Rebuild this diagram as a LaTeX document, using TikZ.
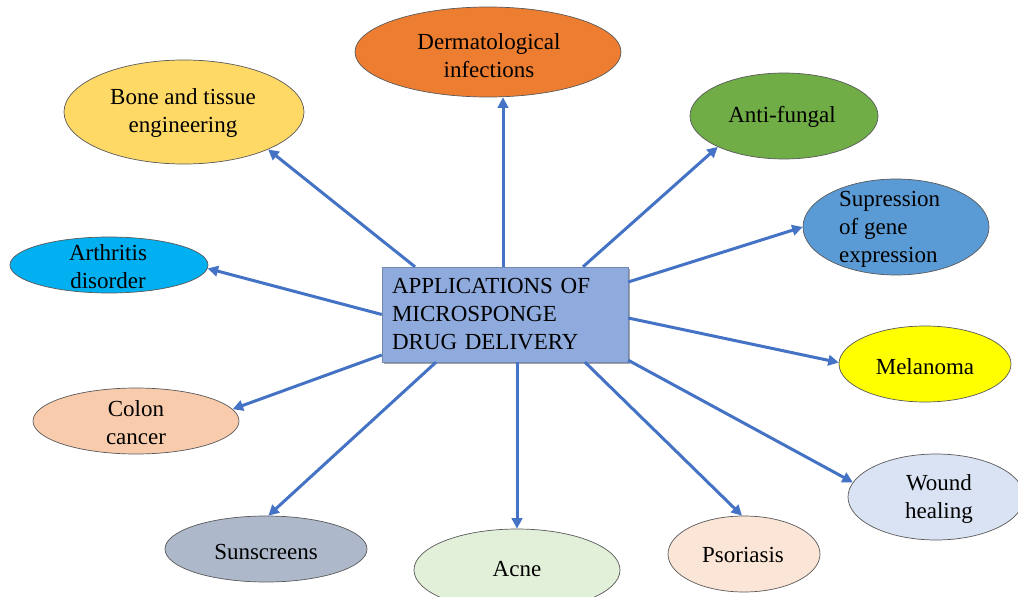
\documentclass[tikz,border=0pt]{standalone}
\usepackage{fontspec}
\setmainfont{Liberation Serif}
\usetikzlibrary{arrows.meta,shadows,shapes.geometric}
\definecolor{arrowblue}{HTML}{4472C4}
\definecolor{boxfill}{HTML}{8FAADC}
\definecolor{cDerm}{HTML}{ED7D31}
\definecolor{cBone}{HTML}{FFD966}
\definecolor{cAnti}{HTML}{70AD47}
\definecolor{cSup}{HTML}{5B9BD5}
\definecolor{cArth}{HTML}{00B0F0}
\definecolor{cMel}{HTML}{FFFF00}
\definecolor{cColon}{HTML}{F8CBAD}
\definecolor{cWound}{HTML}{DAE3F3}
\definecolor{cSun}{HTML}{ADB9CA}
\definecolor{cAcne}{HTML}{E2F0D9}
\definecolor{cPso}{HTML}{FBE5D6}
\begin{document}
\begin{tikzpicture}[x=1pt,y=-1pt,
  ell/.style={ellipse, draw=black!65, line width=0.7pt, inner sep=0pt},
  lbl/.style={font=\fontsize{23}{28}\selectfont, align=center, inner sep=0pt, text=black},
  conn/.style={draw=arrowblue, line width=3pt, -{Triangle[length=10.5pt,width=10.5pt]}},
  mainbox/.style={rectangle, fill=boxfill, draw=boxfill!80!black, line width=0.4pt,
    drop shadow={shadow xshift=2pt, shadow yshift=-2pt, fill=black, opacity=0.35},
    minimum width=246pt, minimum height=95pt, text width=226pt, inner xsep=10pt,
    align=left, font=\fontsize{23}{28}\selectfont}
  ]
\clip (0,0) rectangle (1018,597);
\fill[white] (0,0) rectangle (1018,597);

% ellipses
\node[ell, fill=cDerm,  minimum width=266pt, minimum height=90pt]  (derm)  at (488,52)  {};
\node[ell, fill=cBone,  minimum width=240pt, minimum height=104pt] (bone)  at (184,112) {};
\node[ell, fill=cAnti,  minimum width=188pt, minimum height=86pt]  (anti)  at (784,116) {};
\node[ell, fill=cSup,   minimum width=186pt, minimum height=96pt]  (sup)   at (896,227) {};
\node[ell, fill=cArth,  minimum width=198pt, minimum height=56pt]  (arth)  at (109,265) {};
\node[ell, fill=cMel,   minimum width=172pt, minimum height=76pt]  (mel)   at (925,364) {};
\node[ell, fill=cColon, minimum width=206pt, minimum height=66pt]  (colon) at (136,421) {};
\node[ell, fill=cWound, minimum width=176pt, minimum height=86pt]  (wound) at (936,497) {};
\node[ell, fill=cSun,   minimum width=202pt, minimum height=66pt]  (sun)   at (266,549) {};
\node[ell, fill=cAcne,  minimum width=206pt, minimum height=82pt]  (acne)  at (517,570) {};
\node[ell, fill=cPso,   minimum width=152pt, minimum height=76pt]  (pso)   at (744,554) {};

% labels
\node[lbl] (dermT)  at (489,56)  {Dermatological\\infections};
\node[lbl] (boneT)  at (183,113) {Bone and tissue\\engineering};
\node[lbl] (antiT)  at (782,117) {Anti-fungal};
\node[lbl, align=left, anchor=west] (supT) at (839,229) {Supression\\of gene\\expression};
\node[lbl] (arthT)  at (108,267) {Arthritis\\disorder};
\node[lbl] (melT)   at (925,367) {Melanoma};
\node[lbl] (colonT) at (136,423) {Colon\\cancer};
\node[lbl] (woundT) at (939,499) {Wound\\healing};
\node[lbl] (sunT)   at (266,552) {Sunscreens};
\node[lbl] (acneT)  at (517,569) {Acne};
\node[lbl] (psoT)   at (743,555) {Psoriasis};

% centre box
\node[mainbox] (box) at (505,314.5) {APPLICATIONS OF\\MICROSPONGE\\DRUG DELIVERY};

% connectors
\draw[conn] ([xshift=-2pt]box.north)  -- ([xshift=-2pt]box.north |- derm.south);
\draw[conn] ([xshift=-90pt]box.north) -- (bone.-24.4);
\draw[conn] ([xshift=78pt]box.north)  -- (anti.-155.2);
\draw[conn] ([yshift=32.5pt]box.east) -- (sup.180);
\draw[conn] ([yshift=-3.5pt]box.east) -- (mel.179);
\draw[conn] ([yshift=2pt]box.south east) -- (wound.170);
\draw[conn] ([yshift=0pt]box.west)    -- (arth.-2);
\draw[conn] ([yshift=-40.5pt]box.west) -- (colon.7.5);
\draw[conn] ([xshift=-69pt]box.south) -- (sun.86.6);
\draw[conn] ([xshift=12pt]box.south)  -- (acne.90);
\draw[conn] ([xshift=80pt]box.south)  -- (pso.93);
\end{tikzpicture}
\end{document}
